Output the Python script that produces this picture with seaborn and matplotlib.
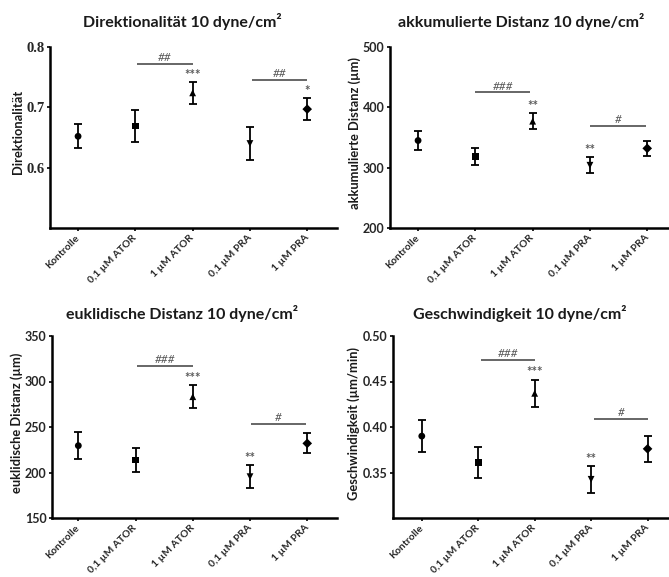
import numpy as np
import pandas as pd
import matplotlib
matplotlib.use("Agg")
import matplotlib.pyplot as plt
import seaborn as sns

sns.set_theme(style="ticks")
plt.rcParams["font.family"] = ["Lato", "DejaVu Sans"]

# Treatment groups shown on every panel
categories = ["Kontrolle", "0,1 µM ATOR", "1 µM ATOR", "0,1 µM PRA", "1 µM PRA"]
group_markers = ["o", "s", "^", "v", "D"]

# Mean and SEM per group
direktionalitaet_mean = [0.652, 0.669, 0.724, 0.640, 0.697]
direktionalitaet_sem = [0.020, 0.026, 0.018, 0.027, 0.018]

akkumuliert_mean = [345, 319, 377, 304, 332]
akkumuliert_sem = [15, 14, 13, 13, 13]

euklidisch_mean = [229.5, 213.7, 283.3, 195.4, 232.0]
euklidisch_sem = [14.5, 13.5, 12.7, 12.5, 11.0]

geschwindigkeit_mean = [0.390, 0.361, 0.437, 0.3425, 0.376]
geschwindigkeit_sem = [0.018, 0.0165, 0.015, 0.0147, 0.0146]

# Significance vs. Kontrolle (above the error bar)
direktionalitaet_stars = ["", "", "***", "", "*"]
akkumuliert_stars = ["", "", "**", "**", ""]
euklidisch_stars = ["", "", "***", "**", ""]
geschwindigkeit_stars = ["", "", "***", "**", ""]

# Pairwise comparisons: (start group, end group, height, label)
direktionalitaet_brackets = [(1.03, 2.0, 0.772, "##"), (3.03, 4.0, 0.745, "##")]
akkumuliert_brackets = [(1.0, 1.96, 425, "###"), (3.0, 3.97, 369, "#")]
euklidisch_brackets = [(1.03, 2.0, 317, "###"), (3.02, 3.98, 253.3, "#")]
geschwindigkeit_brackets = [(1.05, 2.0, 0.4736, "###"), (3.05, 4.0, 0.4088, "#")]

W, H = 669, 577
fig = plt.figure(figsize=(W / 100, H / 100), dpi=100)


def px_axes(left, right, top, bottom):
    return fig.add_axes([left / W, 1 - bottom / H, (right - left) / W, (bottom - top) / H])


panels = [
    dict(box=(50, 337, 47, 228), xlim=(-0.49, 4.52), title="Direktionalität 10 dyne/cm²",
         title_xy=(182, 21), ylabel="Direktionalität", ylabel_xy=(18, 132),
         mean=direktionalitaet_mean, sem=direktionalitaet_sem, stars=direktionalitaet_stars,
         brackets=direktionalitaet_brackets, ylim=(0.5, 0.8), yticks=[0.6, 0.7, 0.8],
         fmt="{:.1f}", serif_ticks=True),
    dict(box=(390, 669, 47, 228), xlim=(-0.49, 4.38), title="akkumulierte Distanz 10 dyne/cm²",
         title_xy=(521, 21), ylabel="akkumulierte Distanz (µm)", ylabel_xy=(355, 133),
         mean=akkumuliert_mean, sem=akkumuliert_sem, stars=akkumuliert_stars,
         brackets=akkumuliert_brackets, ylim=(200, 500), yticks=[200, 300, 400, 500],
         fmt="{:.0f}", serif_ticks=False),
    dict(box=(52, 337, 336, 518), xlim=(-0.46, 4.52), title="euklidische Distanz 10 dyne/cm²",
         title_xy=(182, 313), ylabel="euklidische Distanz (µm)", ylabel_xy=(17, 423),
         mean=euklidisch_mean, sem=euklidisch_sem, stars=euklidisch_stars,
         brackets=euklidisch_brackets, ylim=(150, 350), yticks=[150, 200, 250, 300, 350],
         fmt="{:.0f}", serif_ticks=False),
    dict(box=(393, 669, 336, 518), xlim=(-0.51, 4.38), title="Geschwindigkeit 10 dyne/cm²",
         title_xy=(520, 313), ylabel="Geschwindigkeit (µm/min)", ylabel_xy=(354, 424),
         mean=geschwindigkeit_mean, sem=geschwindigkeit_sem, stars=geschwindigkeit_stars,
         brackets=geschwindigkeit_brackets, ylim=(0.30, 0.50), yticks=[0.35, 0.40, 0.45, 0.50],
         fmt="{:.2f}", serif_ticks=False),
]

sig_color = "#5a5a5a"

for p in panels:
    ax = px_axes(*p["box"])
    xpos = np.arange(len(categories))
    df = pd.DataFrame({"pos": xpos, "Gruppe": categories, "Wert": p["mean"], "SEM": p["sem"]})

    ax.errorbar(df["pos"], df["Wert"], yerr=df["SEM"], fmt="none", ecolor="black",
                elinewidth=1.3, capsize=2.6, capthick=1.3, zorder=2)
    sns.scatterplot(data=df, x="pos", y="Wert", style="Gruppe",
                    markers=dict(zip(categories, group_markers)), color="black",
                    s=24, edgecolor="black", linewidth=0, legend=False, ax=ax, zorder=3)

    for xi, top, lab in zip(xpos, np.add(p["mean"], p["sem"]), p["stars"]):
        if lab:
            ax.annotate(lab, (xi, top), xytext=(0, 1), textcoords="offset points",
                        ha="center", va="bottom", fontsize=9.5, color=sig_color,
                        fontweight="bold")

    for x0, x1, yb, lab in p["brackets"]:
        ax.plot([x0, x1], [yb, yb], color=sig_color, lw=1.3, solid_capstyle="butt")
        ax.annotate(lab, ((x0 + x1) / 2, yb), xytext=(0, 0.5), textcoords="offset points",
                    ha="center", va="bottom", fontsize=8.5, color=sig_color, fontstyle="italic")

    ax.set_xlim(*p["xlim"])
    ax.set_ylim(*p["ylim"])
    ax.set_xticks(xpos)
    ax.set_xticklabels(categories, rotation=45, ha="right", va="center",
                       rotation_mode="anchor", fontsize=7.4, fontweight="bold")
    ax.set_yticks(p["yticks"])
    tick_font = dict(fontsize=9, fontweight="bold")
    if p["serif_ticks"]:
        tick_font["family"] = "Liberation Serif"
        tick_font["fontsize"] = 10.5
    ax.set_yticklabels([p["fmt"].format(t) for t in p["yticks"]], **tick_font)
    ax.set_xlabel("")
    ax.set_ylabel("")
    ax.tick_params(axis="both", length=2.5, width=1.2, color="black", pad=1.5)
    ax.tick_params(axis="x", pad=3.5)
    for side in ("top", "right"):
        ax.spines[side].set_visible(False)
    for side in ("left", "bottom"):
        ax.spines[side].set_linewidth(1.8)
        ax.spines[side].set_color("black")
    ax.set_facecolor("white")

    fig.text(p["title_xy"][0] / W, 1 - p["title_xy"][1] / H, p["title"], ha="center",
             va="center", fontsize=11.5, fontweight="bold", color="#1a1a1a")
    fig.text(p["ylabel_xy"][0] / W, 1 - p["ylabel_xy"][1] / H, p["ylabel"], ha="center",
             va="center", rotation=90, fontsize=9.3, fontweight="bold", color="#1a1a1a")

fig.savefig("out.png", dpi=100, facecolor="white")
